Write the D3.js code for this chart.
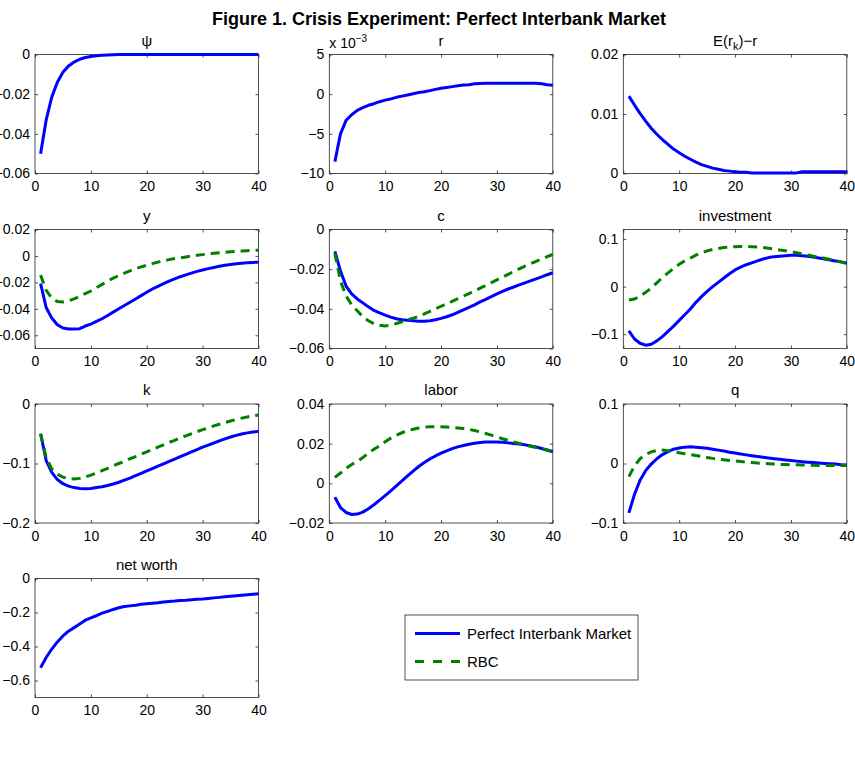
<!DOCTYPE html>
<html>
<head>
<meta charset="utf-8">
<script src="https://cdn.jsdelivr.net/npm/d3@7/dist/d3.min.js"></script>
<style>
body { margin: 0; background: #fff; }
svg { font-family: "Liberation Sans", Arial, sans-serif; }
</style>
</head>
<body>
<div id="chart"></div>
<script>
// periods after the shock
var periods = [1,2,3,4,5,6,7,8,9,10,11,12,13,14,15,16,17,18,19,20,
               21,22,23,24,25,26,27,28,29,30,31,32,33,34,35,36,37,38,39,40];
var xTicks = [0, 10, 20, 30, 40];
var seriesNames = ["Perfect Interbank Market", "RBC"];

// responses, Perfect Interbank Market (blue) and RBC (green)
var psiPim = [-0.05,-0.033,-0.0215,-0.014,-0.009,-0.0058,-0.0038,-0.0024,-0.0015,-0.001,
              -0.0006,-0.0004,-0.0002,-0.0001,0,0,0,0,0,0,0,0,0,0,0,0,0,0,0,0,0,0,0,0,0,0,0,0,0,0];
// r is in units of 10^-3
var rPim = [-8.5,-5.0,-3.3,-2.6,-2.05,-1.7,-1.4,-1.2,-0.95,-0.75,-0.6,-0.4,-0.25,-0.1,0.05,0.2,0.3,0.45,0.6,0.75,
            0.85,0.95,1.05,1.15,1.2,1.3,1.35,1.38,1.38,1.38,1.38,1.38,1.38,1.38,1.38,1.38,1.38,1.32,1.2,1.13];
var spreadPim = [0.013,0.0115,0.0101,0.0088,0.0076,0.0066,0.0057,0.0049,0.0041,0.0035,
                 0.0029,0.0024,0.0019,0.0015,0.0012,0.0009,0.0007,0.0005,0.0004,0.0003,
                 0.0002,0.0002,0.0001,0.0001,0.0001,0.0001,0.0001,0.0001,0.0001,0.0001,
                 0.0001,0.0003,0.0003,0.0003,0.0003,0.0003,0.0003,0.0003,0.0003,0.0003];
var yPim = [-0.021,-0.039,-0.047,-0.052,-0.0545,-0.0553,-0.0553,-0.055,-0.053,-0.0515,
            -0.0495,-0.0475,-0.045,-0.0425,-0.04,-0.0375,-0.035,-0.0325,-0.03,-0.0275,
            -0.025,-0.023,-0.021,-0.019,-0.0173,-0.0157,-0.0143,-0.013,-0.0117,-0.0106,
            -0.0096,-0.0087,-0.0078,-0.0071,-0.0065,-0.0059,-0.0055,-0.0052,-0.0049,-0.0047];
var yRbc = [-0.0145,-0.026,-0.032,-0.0345,-0.0348,-0.034,-0.0325,-0.0305,-0.0285,-0.0265,
            -0.024,-0.0215,-0.019,-0.0168,-0.0148,-0.013,-0.0113,-0.0097,-0.0083,-0.007,
            -0.0058,-0.0047,-0.0037,-0.0028,-0.002,-0.0015,-0.0008,-0.0001,0.0005,0.001,
            0.0015,0.002,0.0024,0.0028,0.0031,0.0034,0.0037,0.004,0.0042,0.0044];
var cPim = [-0.011,-0.021,-0.0285,-0.0325,-0.035,-0.037,-0.039,-0.0408,-0.042,-0.0432,
            -0.0442,-0.045,-0.0455,-0.0458,-0.046,-0.0462,-0.0462,-0.046,-0.0455,-0.0448,
            -0.044,-0.043,-0.0418,-0.0405,-0.0393,-0.038,-0.0365,-0.0352,-0.0338,-0.0325,
            -0.0312,-0.03,-0.029,-0.0279,-0.0269,-0.0259,-0.0249,-0.0239,-0.0228,-0.0218];
var cRbc = [-0.012,-0.026,-0.0335,-0.038,-0.041,-0.044,-0.046,-0.0475,-0.0483,-0.0486,
            -0.0482,-0.0474,-0.0465,-0.0455,-0.0447,-0.0438,-0.0425,-0.0413,-0.04,-0.0387,
            -0.0375,-0.0362,-0.0349,-0.0336,-0.0323,-0.031,-0.0296,-0.0282,-0.0268,-0.0254,
            -0.024,-0.0226,-0.0212,-0.0198,-0.0185,-0.0173,-0.0161,-0.0149,-0.0137,-0.0126];
var invPim = [-0.093,-0.11,-0.119,-0.123,-0.121,-0.114,-0.105,-0.094,-0.083,-0.071,
              -0.059,-0.047,-0.033,-0.021,-0.01,0,0.009,0.018,0.027,0.035,
              0.041,0.046,0.05,0.054,0.058,0.061,0.063,0.064,0.065,0.066,
              0.066,0.065,0.064,0.062,0.06,0.058,0.056,0.054,0.052,0.049];
var invRbc = [-0.028,-0.026,-0.02,-0.012,-0.003,0.008,0.019,0.029,0.038,0.047,
              0.054,0.06,0.066,0.071,0.075,0.078,0.08,0.082,0.083,0.084,
              0.0845,0.0845,0.0838,0.083,0.082,0.0805,0.079,0.077,0.0755,0.0735,
              0.071,0.069,0.0665,0.064,0.062,0.0595,0.057,0.0545,0.0515,0.049];
var kPim = [-0.05,-0.095,-0.115,-0.127,-0.134,-0.138,-0.1405,-0.142,-0.1425,-0.142,
            -0.1405,-0.139,-0.137,-0.1345,-0.1315,-0.128,-0.1245,-0.1205,-0.1165,-0.1125,
            -0.1085,-0.1045,-0.1005,-0.0965,-0.0925,-0.0885,-0.0845,-0.0805,-0.0765,-0.0725,
            -0.069,-0.0655,-0.062,-0.0587,-0.0555,-0.0528,-0.0505,-0.0485,-0.047,-0.046];
var kRbc = [-0.05,-0.09,-0.109,-0.118,-0.123,-0.1255,-0.126,-0.125,-0.1225,-0.1195,
            -0.116,-0.112,-0.108,-0.104,-0.1,-0.0965,-0.092,-0.0885,-0.0845,-0.0805,
            -0.0765,-0.0725,-0.0685,-0.0645,-0.061,-0.057,-0.0535,-0.05,-0.0465,-0.0432,
            -0.04,-0.0368,-0.034,-0.0312,-0.0285,-0.026,-0.0237,-0.0217,-0.02,-0.0184];
var laborPim = [-0.007,-0.0122,-0.0147,-0.0157,-0.0155,-0.0145,-0.0128,-0.0108,-0.0085,-0.0062,
                -0.0038,-0.0013,0.0012,0.0037,0.0062,0.0085,0.0105,0.0123,0.0138,0.0152,
                0.0164,0.0175,0.0184,0.0191,0.0197,0.0202,0.0206,0.0208,0.0209,0.0209,
                0.0207,0.0204,0.0201,0.0198,0.0194,0.0189,0.0183,0.0176,0.0168,0.016];
var laborRbc = [0.003,0.0052,0.0075,0.0095,0.011,0.013,0.0153,0.0172,0.019,0.021,
                0.0228,0.0243,0.0255,0.0265,0.0273,0.0279,0.0283,0.0285,0.0286,0.0285,
                0.0284,0.0282,0.0279,0.0276,0.0272,0.0266,0.0259,0.0251,0.0243,0.0234,
                0.0225,0.0217,0.0209,0.0201,0.0193,0.0187,0.0181,0.0174,0.0167,0.016];
var qPim = [-0.083,-0.052,-0.028,-0.012,-0.001,0.008,0.015,0.02,0.024,0.026,
            0.0275,0.028,0.0275,0.0265,0.0255,0.024,0.0225,0.021,0.019,0.0175,
            0.016,0.0145,0.013,0.0117,0.0104,0.0092,0.008,0.007,0.006,0.005,
            0.004,0.003,0.0022,0.0015,0.0008,0.0002,-0.0004,-0.001,-0.002,-0.003];
var qRbc = [-0.022,-0.004,0.008,0.015,0.0195,0.022,0.0225,0.0215,0.02,0.018,
            0.0165,0.015,0.0135,0.012,0.0102,0.0086,0.0074,0.0063,0.0052,0.0042,
            0.0032,0.0023,0.0015,0.0008,0.0002,-0.0004,-0.001,-0.0015,-0.0018,-0.002,
            -0.0022,-0.0025,-0.0028,-0.003,-0.0032,-0.0033,-0.0034,-0.0034,-0.0034,-0.0034];
var nwPim = [-0.525,-0.465,-0.415,-0.373,-0.338,-0.31,-0.289,-0.267,-0.245,-0.232,
             -0.218,-0.204,-0.193,-0.182,-0.172,-0.165,-0.161,-0.157,-0.152,-0.148,
             -0.145,-0.142,-0.138,-0.135,-0.133,-0.13,-0.128,-0.125,-0.122,-0.12,
             -0.117,-0.114,-0.111,-0.108,-0.105,-0.102,-0.099,-0.096,-0.093,-0.09];

// y tick labels per panel
var psiTicks = [-0.06, -0.04, -0.02, 0];
var rTicks = [-10, -5, 0, 5];
var spreadTicks = [0, 0.01, 0.02];
var yTicks = [-0.06, -0.04, -0.02, 0, 0.02];
var cTicks = [-0.06, -0.04, -0.02, 0];
var invTicks = [-0.1, 0, 0.1];
var kTicks = [-0.2, -0.1, 0];
var laborTicks = [-0.02, 0, 0.02, 0.04];
var qTicks = [-0.1, 0, 0.1];
var nwTicks = [-0.6, -0.4, -0.2, 0];

var panels = [
  {title: "psi", row: 0, col: 0, domain: [-0.06, 0], ticks: psiTicks, pim: psiPim},
  {title: "r", row: 0, col: 1, domain: [-10, 5], ticks: rTicks, pim: rPim, scaleNote: true},
  {title: "spread", row: 0, col: 2, domain: [0, 0.02], ticks: spreadTicks, pim: spreadPim},
  {title: "y", row: 1, col: 0, domain: [-0.07, 0.02], ticks: yTicks, pim: yPim, rbc: yRbc},
  {title: "c", row: 1, col: 1, domain: [-0.06, 0], ticks: cTicks, pim: cPim, rbc: cRbc},
  {title: "investment", row: 1, col: 2, domain: [-0.13, 0.12], ticks: invTicks, pim: invPim, rbc: invRbc},
  {title: "k", row: 2, col: 0, domain: [-0.2, 0], ticks: kTicks, pim: kPim, rbc: kRbc},
  {title: "labor", row: 2, col: 1, domain: [-0.02, 0.04], ticks: laborTicks, pim: laborPim, rbc: laborRbc},
  {title: "q", row: 2, col: 2, domain: [-0.1, 0.1], ticks: qTicks, pim: qPim, rbc: qRbc},
  {title: "net worth", row: 3, col: 0, domain: [-0.7, 0], ticks: nwTicks, pim: nwPim}
];

var width = 855, height = 765;
var colLeft = [35, 329.3, 623.3], boxW = 223.5;
var rowTop = [54.5, 229.5, 404, 578.5], boxH = 119;
var blue = "#0000ff", green = "#008000", axisColor = "#262626";
var tickFont = "14px", titleFont = "15px";

var svg = d3.select("#chart").append("svg")
    .attr("width", width)
    .attr("height", height);

svg.append("text")
    .attr("x", 439).attr("y", 25)
    .attr("text-anchor", "middle")
    .style("font-weight", "bold")
    .style("font-size", "18px")
    .text("Figure 1. Crisis Experiment: Perfect Interbank Market");

var fmt = d3.format("~g");

panels.forEach(function(p) {
    var g = svg.append("g")
        .attr("transform", "translate(" + colLeft[p.col] + "," + rowTop[p.row] + ")");

    var x = d3.scaleLinear().domain([0, 40]).range([0, boxW]);
    var y = d3.scaleLinear().domain(p.domain).range([boxH, 0]);

    // ticks inside the box, on all four sides
    g.append("g").attr("transform", "translate(0," + boxH + ")")
        .call(d3.axisBottom(x).tickValues(xTicks).tickSizeInner(-3).tickSizeOuter(0).tickPadding(8).tickFormat(d3.format("d")));
    g.append("g")
        .call(d3.axisTop(x).tickValues(xTicks).tickSizeInner(-3).tickSizeOuter(0).tickFormat(""));
    g.append("g")
        .call(d3.axisLeft(y).tickValues(p.ticks).tickSizeInner(-3).tickSizeOuter(0).tickPadding(5)
              .tickFormat(function(d) { return d === 0 ? "0" : fmt(d); }));
    g.append("g").attr("transform", "translate(" + boxW + ",0)")
        .call(d3.axisRight(y).tickValues(p.ticks).tickSizeInner(-3).tickSizeOuter(0).tickFormat(""));

    g.selectAll(".domain").remove();
    g.selectAll(".tick line").attr("stroke", axisColor).attr("stroke-width", 0.8);
    g.selectAll(".tick text")
        .attr("fill", "#000")
        .style("font-size", tickFont)
        .style("font-family", "'Liberation Sans', Arial, sans-serif");

    g.append("rect")
        .attr("width", boxW).attr("height", boxH)
        .attr("fill", "none")
        .attr("stroke", axisColor)
        .attr("stroke-width", 0.8);

    // panel title
    var t = g.append("text")
        .attr("x", boxW / 2).attr("y", -9)
        .attr("text-anchor", "middle")
        .style("font-size", titleFont);
    if (p.title === "psi") {
        t.text("\u03c8");
    } else if (p.title === "spread") {
        t.append("tspan").text("E(r");
        t.append("tspan").attr("dy", 4).style("font-size", "11px").text("k");
        t.append("tspan").attr("dy", -4).text(")\u2212r");
    } else {
        t.text(p.title);
    }

    if (p.scaleNote) {
        var n = g.append("text").attr("x", 0).attr("y", -7).style("font-size", tickFont);
        n.append("tspan").text("x 10");
        n.append("tspan").attr("dy", -6).style("font-size", "10px").text("\u22123");
    }

    var line = d3.line()
        .x(function(d, i) { return x(periods[i]); })
        .y(function(d) { return y(d); });

    g.append("path")
        .datum(p.pim)
        .attr("d", line)
        .attr("fill", "none")
        .attr("stroke", blue)
        .attr("stroke-width", 3)
        .attr("stroke-linejoin", "round");

    if (p.rbc) {
        g.append("path")
            .datum(p.rbc)
            .attr("d", line)
            .attr("fill", "none")
            .attr("stroke", green)
            .attr("stroke-width", 3)
            .attr("stroke-dasharray", "9,6");
    }
});

// legend
var legend = svg.append("g").attr("transform", "translate(405,615)");
legend.append("rect")
    .attr("width", 233).attr("height", 65)
    .attr("fill", "#fff")
    .attr("stroke", axisColor)
    .attr("stroke-width", 0.8);

seriesNames.forEach(function(name, i) {
    var ly = 18.5 + i * 28;
    legend.append("line")
        .attr("x1", 10).attr("x2", 55)
        .attr("y1", ly).attr("y2", ly)
        .attr("stroke", i === 0 ? blue : green)
        .attr("stroke-width", 3)
        .attr("stroke-dasharray", i === 0 ? null : "9,9");
    legend.append("text")
        .attr("x", 62).attr("y", ly + 5)
        .style("font-size", "15px")
        .text(name);
});
</script>
</body>
</html>
